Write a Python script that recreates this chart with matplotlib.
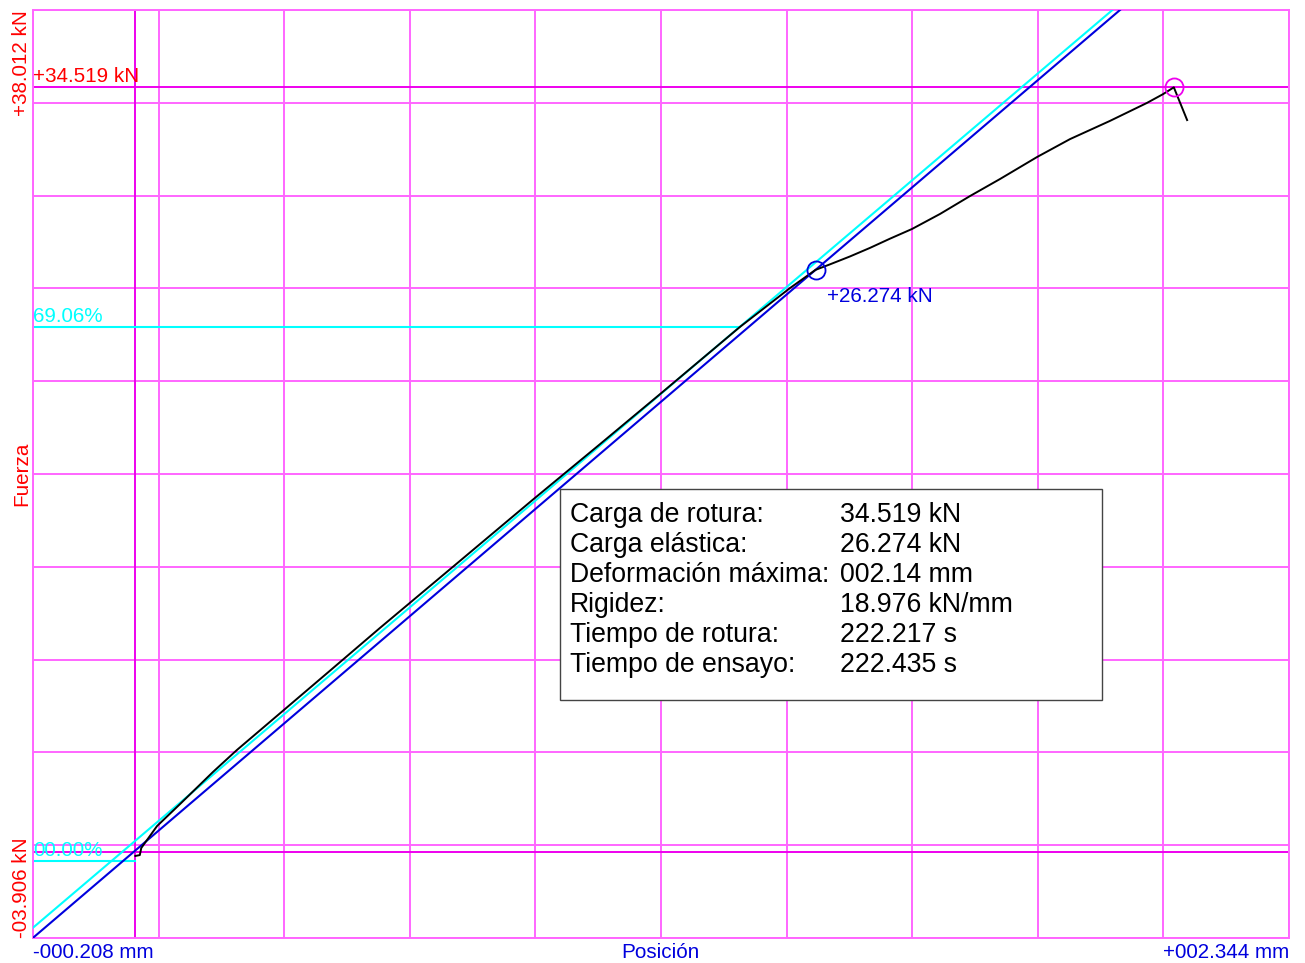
import numpy as np
import matplotlib
matplotlib.use("Agg")
import matplotlib.pyplot as plt
from matplotlib.patches import Rectangle

plt.rcParams["font.family"] = ["Liberation Sans", "DejaVu Sans"]

# axis limits (mm, kN)
x_min, x_max = -0.208, 2.344
y_min, y_max = -3.906, 38.012

# test curve: position (mm) vs force (kN)
pos_mm = [0.000, 0.009, 0.012, 0.044, 0.091, 0.158, 0.206, 0.300, 0.395, 0.497,
          0.650, 0.808, 0.944, 1.066, 1.228, 1.330, 1.382, 1.411, 1.452, 1.493,
          1.533, 1.578, 1.635, 1.696, 1.757, 1.832, 1.899, 1.980, 2.055, 2.088,
          2.110, 2.137]
force_kN = [-0.20, -0.16, 0.16, 1.15, 2.15, 3.60, 4.58, 6.36, 8.16, 10.10,
            12.95, 15.90, 18.40, 20.66, 23.69, 25.45, 26.274, 26.52, 26.88, 27.27,
            27.68, 28.12, 28.80, 29.61, 30.38, 31.37, 32.18, 33.00, 33.81, 34.21,
            34.519, 33.04]

# key results
carga_rotura = 34.519
carga_elastica = 26.274
pos_elastica = 1.382
pos_rotura = 2.110
rigidez = 18.976
fit_slope, fit_icpt = 18.9, 0.49
pct_levels = [-0.43, 23.69]
pct_ends = [0.0, 1.228]
pct_labels = ["00.00%", "69.06%"]

info_labels = ["Carga de rotura:", "Carga elástica:", "Deformación máxima:",
               "Rigidez:", "Tiempo de rotura:", "Tiempo de ensayo:"]
info_values = ["34.519 kN", "26.274 kN", "002.14 mm", "18.976 kN/mm",
               "222.217 s", "222.435 s"]

W, H = 1305, 963
fig = plt.figure(figsize=(W / 100, H / 100), dpi=100)
ax = fig.add_axes([33 / W, 25 / H, 1256 / W, 928 / H])
ax.set_xlim(x_min, x_max)
ax.set_ylim(y_min, y_max)

grid_c = "#FF66FF"
dark_c = "#EE00EE"
ax.set_xticks(np.linspace(x_min, x_max, 11))
ax.set_yticks(np.linspace(y_min, y_max, 11))
ax.tick_params(length=0, labelbottom=False, labelleft=False)
ax.grid(True, color=grid_c, lw=1.4)
ax.set_axisbelow(True)
for s in ax.spines.values():
    s.set_color(grid_c)
    s.set_linewidth(1.4)

ax.axvline(0, color=dark_c, lw=1.4, zorder=1)
ax.axhline(0, color=dark_c, lw=1.4, zorder=1)
ax.axhline(carga_rotura, color=dark_c, lw=1.4, zorder=1)

# percentage lines
for lvl, xe, lab in zip(pct_levels, pct_ends, pct_labels):
    ax.plot([x_min, xe], [lvl, lvl], color="cyan", lw=1.5, zorder=2)
    ax.annotate(lab, (x_min, lvl), xytext=(0, 3.5), textcoords="offset points",
                color="cyan", fontsize=14.9, va="baseline", ha="left")

xs = np.array([x_min, x_max])
ax.plot(xs, fit_slope * xs + fit_icpt, color="cyan", lw=1.5, zorder=3)
ax.plot(xs, carga_elastica + rigidez * (xs - pos_elastica), color="#0000DD", lw=1.5, zorder=3)

ax.plot(pos_mm, force_kN, color="black", lw=1.4, zorder=4)

ax.plot([pos_elastica], [carga_elastica], "o", ms=13, mfc="none", mec="#0000DD", mew=1.3, zorder=5)
ax.plot([pos_rotura], [carga_rotura], "o", ms=13, mfc="none", mec="#EE00EE", mew=1.3, zorder=5)

ax.annotate("+34.519 kN", (x_min, carga_rotura), xytext=(0, 3.5), textcoords="offset points",
            color="red", fontsize=14.9, va="baseline", ha="left")
ax.annotate("+26.274 kN", (pos_elastica, carga_elastica), xytext=(8.5, -23), textcoords="offset points",
            color="#0000DD", fontsize=14.9, va="baseline", ha="left")

# info box
bx0, bx1 = (560 - 33) / 1256, (1102 - 33) / 1256
by0, by1 = (938 - 700) / 928, (938 - 489) / 928
ax.add_patch(Rectangle((bx0, by0), bx1 - bx0, by1 - by0, transform=ax.transAxes,
                       facecolor="white", edgecolor="#444444", lw=1.0, zorder=6))
for i, (lab, val) in enumerate(zip(info_labels, info_values)):
    yy = (938 - (522 + 30 * i)) / 928
    ax.text((570 - 33) / 1256, yy, lab, transform=ax.transAxes, fontsize=19.2,
            va="baseline", ha="left", zorder=7)
    ax.text((840 - 33) / 1256, yy, val, transform=ax.transAxes, fontsize=19.2,
            va="baseline", ha="left", zorder=7)

# outer labels
fig.text(31 / W, 1 - 10 / H, "+38.012 kN", rotation=90, color="red", fontsize=14.9, ha="right", va="top")
fig.text(31 / W, (H - 474) / H, "Fuerza", rotation=90, color="red", fontsize=14.9, ha="right", va="center")
fig.text(31 / W, (H - 938) / H, "-03.906 kN", rotation=90, color="red", fontsize=14.9, ha="right", va="bottom")
fig.text(33 / W, (H - 958) / H, "-000.208 mm", color="#0000DD", fontsize=14.9, ha="left", va="baseline")
fig.text(660 / W, (H - 958) / H, "Posición", color="#0000DD", fontsize=14.9, ha="center", va="baseline")
fig.text(1289 / W, (H - 958) / H, "+002.344 mm", color="#0000DD", fontsize=14.9, ha="right", va="baseline")

fig.savefig("out.png", dpi=100, facecolor="white")
